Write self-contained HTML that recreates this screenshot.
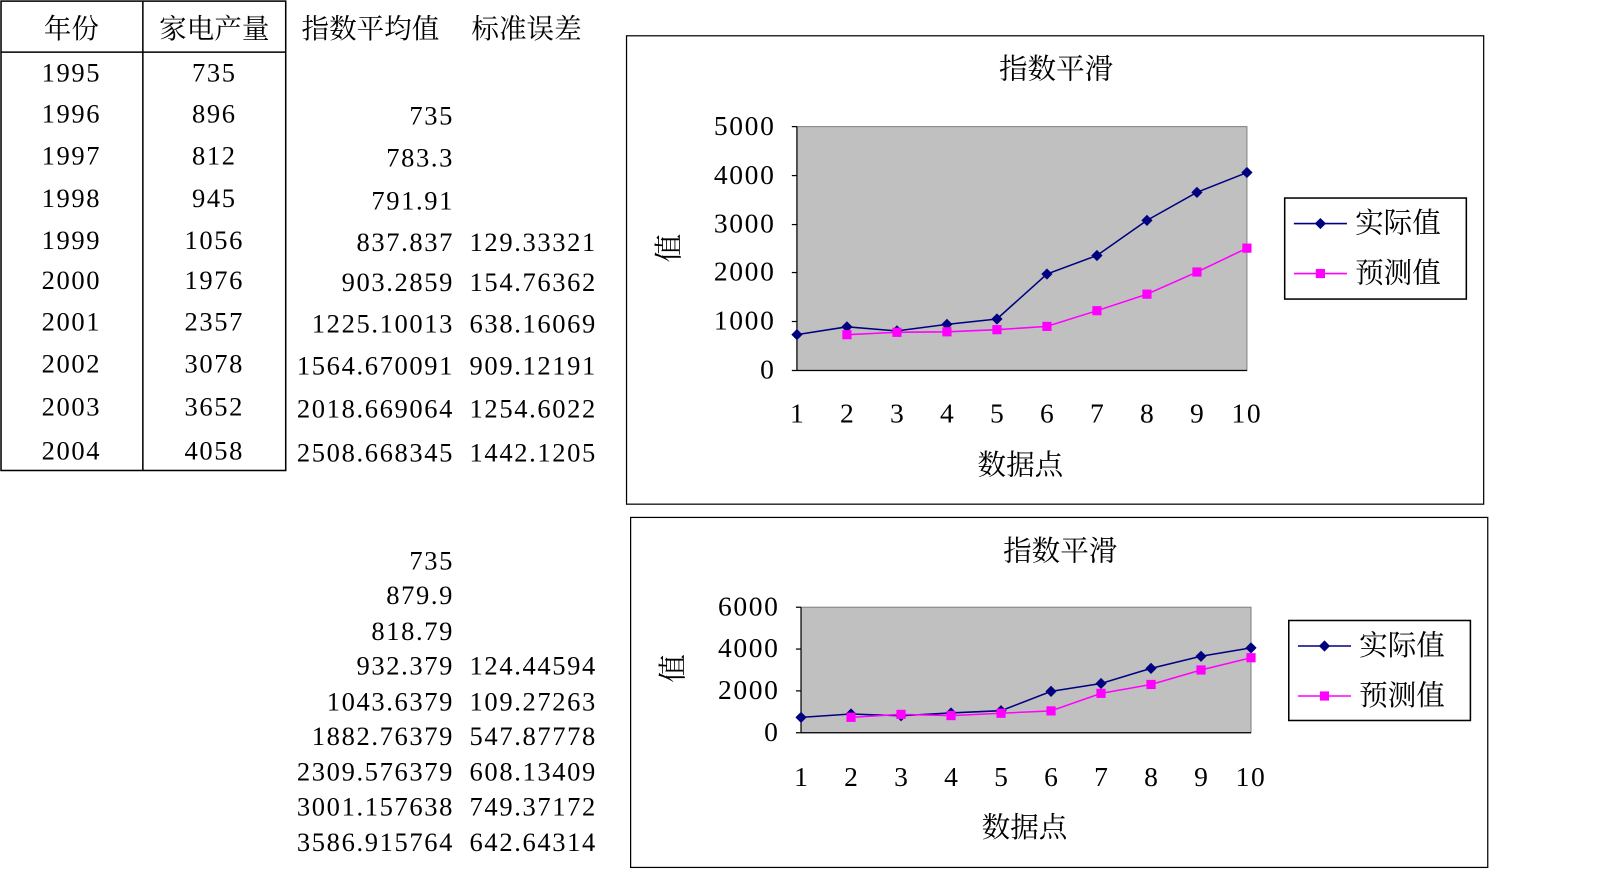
<!DOCTYPE html>
<html><head><meta charset="utf-8"><style>
html,body{margin:0;padding:0;background:#fff;}
svg{display:block;}
text{font-family:"Liberation Serif","Noto Serif CJK SC",serif;fill:#000;}
.n{letter-spacing:1.6px;}
</style></head><body>
<svg width="1600" height="892" viewBox="0 0 1568 874" xmlns="http://www.w3.org/2000/svg">
<!-- table -->
<g stroke="#000" stroke-width="1.5" fill="none">
<rect x="1" y="1" width="279" height="460"/>
<line x1="140" y1="1" x2="140" y2="461"/>
<line x1="1" y1="51" x2="280" y2="51"/>
</g>
<g font-size="27" text-anchor="middle">
<text x="70" y="37">年份</text><text x="210" y="37">家电产量</text>
<text x="363" y="37">指数平均值</text><text x="516" y="37">标准误差</text>
</g>
<g font-size="26" text-anchor="middle" class="n">
<text x="70" y="80">1995</text><text x="210" y="80">735</text>
<text x="70" y="120">1996</text><text x="210" y="120">896</text>
<text x="70" y="161">1997</text><text x="210" y="161">812</text>
<text x="70" y="203">1998</text><text x="210" y="203">945</text>
<text x="70" y="244">1999</text><text x="210" y="244">1056</text>
<text x="70" y="283">2000</text><text x="210" y="283">1976</text>
<text x="70" y="324">2001</text><text x="210" y="324">2357</text>
<text x="70" y="365">2002</text><text x="210" y="365">3078</text>
<text x="70" y="407">2003</text><text x="210" y="407">3652</text>
<text x="70" y="450">2004</text><text x="210" y="450">4058</text>
</g>
<g font-size="26" text-anchor="end" class="n">
<text x="445" y="122">735</text>
<text x="445" y="163">783.3</text>
<text x="445" y="205">791.91</text>
<text x="445" y="246">837.837</text><text x="585" y="246">129.33321</text>
<text x="445" y="285">903.2859</text><text x="585" y="285">154.76362</text>
<text x="445" y="326">1225.10013</text><text x="585" y="326">638.16069</text>
<text x="445" y="367">1564.670091</text><text x="585" y="367">909.12191</text>
<text x="445" y="409">2018.669064</text><text x="585" y="409">1254.6022</text>
<text x="445" y="452">2508.668345</text><text x="585" y="452">1442.1205</text>
<text x="445" y="558">735</text>
<text x="445" y="592">879.9</text>
<text x="445" y="627">818.79</text>
<text x="445" y="661">932.379</text><text x="585" y="661">124.44594</text>
<text x="445" y="696">1043.6379</text><text x="585" y="696">109.27263</text>
<text x="445" y="730">1882.76379</text><text x="585" y="730">547.87778</text>
<text x="445" y="765">2309.576379</text><text x="585" y="765">608.13409</text>
<text x="445" y="799">3001.157638</text><text x="585" y="799">749.37172</text>
<text x="445" y="834">3586.915764</text><text x="585" y="834">642.64314</text>
</g>

<!-- chart 1 -->
<rect x="614" y="35" width="840" height="459" fill="#fff" stroke="#000" stroke-width="1.2"/>
<text x="1035" y="77" font-size="28" text-anchor="middle">指数平滑</text>
<rect x="781" y="124" width="441" height="239" fill="#c0c0c0" stroke="#808080"/>
<g stroke="#000" stroke-width="1.2">
<line x1="781" y1="124" x2="781" y2="363"/><line x1="776" y1="363" x2="1222" y2="363"/>
<line x1="776" y1="124" x2="781" y2="124"/><line x1="776" y1="172" x2="781" y2="172"/><line x1="776" y1="220" x2="781" y2="220"/><line x1="776" y1="267" x2="781" y2="267"/><line x1="776" y1="315" x2="781" y2="315"/>
</g>
<g font-size="27" text-anchor="end" class="n">
<text x="760" y="132">5000</text><text x="760" y="180">4000</text><text x="760" y="228">3000</text><text x="760" y="275">2000</text><text x="760" y="323">1000</text><text x="760" y="371">0</text>
</g>
<g font-size="27" text-anchor="middle">
<text x="781" y="414">1</text><text x="830" y="414">2</text><text x="879" y="414">3</text><text x="928" y="414">4</text><text x="977" y="414">5</text><text x="1026" y="414">6</text><text x="1075" y="414">7</text><text x="1124" y="414">8</text><text x="1173" y="414">9</text><text x="1222" y="414" class="n">10</text>
<text x="1000" y="465" font-size="28">数据点</text>
<text x="655" y="253" font-size="28" transform="rotate(-90 655 243)">值</text>
</g>
<polyline fill="none" stroke="#000080" stroke-width="1.5" points="781,327.9 830,320.2 879,324.2 928,317.8 977,312.5 1026,268.5 1075,250.3 1124,215.9 1173,188.4 1222,169"/>
<g fill="#000080">
<path d="M781 322.4l5.5 5.5-5.5 5.5-5.5-5.5z"/><path d="M830 314.7l5.5 5.5-5.5 5.5-5.5-5.5z"/><path d="M879 318.7l5.5 5.5-5.5 5.5-5.5-5.5z"/><path d="M928 312.3l5.5 5.5-5.5 5.5-5.5-5.5z"/><path d="M977 307l5.5 5.5-5.5 5.5-5.5-5.5z"/><path d="M1026 263l5.5 5.5-5.5 5.5-5.5-5.5z"/><path d="M1075 244.8l5.5 5.5-5.5 5.5-5.5-5.5z"/><path d="M1124 210.4l5.5 5.5-5.5 5.5-5.5-5.5z"/><path d="M1173 182.9l5.5 5.5-5.5 5.5-5.5-5.5z"/><path d="M1222 163.5l5.5 5.5-5.5 5.5-5.5-5.5z"/>
</g>
<polyline fill="none" stroke="#ff00ff" stroke-width="1.5" points="830,327.9 879,325.6 928,325.1 977,323 1026,319.8 1075,304.4 1124,288.2 1173,266.5 1222,243.1"/>
<g fill="#ff00ff">
<rect x="825.5" y="323.4" width="9" height="9"/><rect x="874.5" y="321.1" width="9" height="9"/><rect x="923.5" y="320.6" width="9" height="9"/><rect x="972.5" y="318.5" width="9" height="9"/><rect x="1021.5" y="315.3" width="9" height="9"/><rect x="1070.5" y="299.9" width="9" height="9"/><rect x="1119.5" y="283.7" width="9" height="9"/><rect x="1168.5" y="262" width="9" height="9"/><rect x="1217.5" y="238.6" width="9" height="9"/>
</g>
<rect x="1259" y="194" width="178" height="99" fill="#fff" stroke="#000" stroke-width="1.5"/>
<line x1="1268" y1="219" x2="1320" y2="219" stroke="#000080" stroke-width="1.5"/><path d="M1294 213.5l5.5 5.5-5.5 5.5-5.5-5.5z" fill="#000080"/>
<line x1="1268" y1="268" x2="1320" y2="268" stroke="#ff00ff" stroke-width="1.5"/><rect x="1289.5" y="263.5" width="9" height="9" fill="#ff00ff"/>
<text x="1328" y="228" font-size="28">实际值</text><text x="1328" y="277" font-size="28">预测值</text>

<!-- chart 2 -->
<rect x="618" y="507" width="840" height="343" fill="#fff" stroke="#000" stroke-width="1.2"/>
<text x="1039" y="549" font-size="28" text-anchor="middle">指数平滑</text>
<rect x="785" y="595" width="441" height="123" fill="#c0c0c0" stroke="#808080"/>
<g stroke="#000" stroke-width="1.2">
<line x1="785" y1="595" x2="785" y2="718"/><line x1="780" y1="718" x2="1226" y2="718"/>
<line x1="780" y1="595" x2="785" y2="595"/><line x1="780" y1="636" x2="785" y2="636"/><line x1="780" y1="677" x2="785" y2="677"/>
</g>
<g font-size="27" text-anchor="end" class="n">
<text x="764" y="603">6000</text><text x="764" y="644">4000</text><text x="764" y="685">2000</text><text x="764" y="726">0</text>
</g>
<g font-size="27" text-anchor="middle">
<text x="785" y="770">1</text><text x="834" y="770">2</text><text x="883" y="770">3</text><text x="932" y="770">4</text><text x="981" y="770">5</text><text x="1030" y="770">6</text><text x="1079" y="770">7</text><text x="1128" y="770">8</text><text x="1177" y="770">9</text><text x="1226" y="770" class="n">10</text>
<text x="1004" y="820" font-size="28">数据点</text>
<text x="659" y="665" font-size="28" transform="rotate(-90 659 655)">值</text>
</g>
<polyline fill="none" stroke="#000080" stroke-width="1.5" points="785,702.9 834,699.6 883,701.4 932,698.6 981,696.4 1030,677.5 1079,669.7 1128,654.9 1177,643.1 1226,634.8"/>
<g fill="#000080">
<path d="M785 697.4l5.5 5.5-5.5 5.5-5.5-5.5z"/><path d="M834 694.1l5.5 5.5-5.5 5.5-5.5-5.5z"/><path d="M883 695.9l5.5 5.5-5.5 5.5-5.5-5.5z"/><path d="M932 693.1l5.5 5.5-5.5 5.5-5.5-5.5z"/><path d="M981 690.9l5.5 5.5-5.5 5.5-5.5-5.5z"/><path d="M1030 672l5.5 5.5-5.5 5.5-5.5-5.5z"/><path d="M1079 664.2l5.5 5.5-5.5 5.5-5.5-5.5z"/><path d="M1128 649.4l5.5 5.5-5.5 5.5-5.5-5.5z"/><path d="M1177 637.6l5.5 5.5-5.5 5.5-5.5-5.5z"/><path d="M1226 629.3l5.5 5.5-5.5 5.5-5.5-5.5z"/>
</g>
<polyline fill="none" stroke="#ff00ff" stroke-width="1.5" points="834,702.9 883,700 932,701.2 981,698.9 1030,696.6 1079,679.4 1128,670.7 1177,656.5 1226,644.5"/>
<g fill="#ff00ff">
<rect x="829.5" y="698.4" width="9" height="9"/><rect x="878.5" y="695.5" width="9" height="9"/><rect x="927.5" y="696.7" width="9" height="9"/><rect x="976.5" y="694.4" width="9" height="9"/><rect x="1025.5" y="692.1" width="9" height="9"/><rect x="1074.5" y="674.9" width="9" height="9"/><rect x="1123.5" y="666.2" width="9" height="9"/><rect x="1172.5" y="652" width="9" height="9"/><rect x="1221.5" y="640" width="9" height="9"/>
</g>
<rect x="1263" y="608" width="178" height="98" fill="#fff" stroke="#000" stroke-width="1.5"/>
<line x1="1272" y1="633" x2="1324" y2="633" stroke="#000080" stroke-width="1.5"/><path d="M1298 627.5l5.5 5.5-5.5 5.5-5.5-5.5z" fill="#000080"/>
<line x1="1272" y1="682" x2="1324" y2="682" stroke="#ff00ff" stroke-width="1.5"/><rect x="1293.5" y="677.5" width="9" height="9" fill="#ff00ff"/>
<text x="1332" y="642" font-size="28">实际值</text><text x="1332" y="691" font-size="28">预测值</text>
</svg>
</body></html>
